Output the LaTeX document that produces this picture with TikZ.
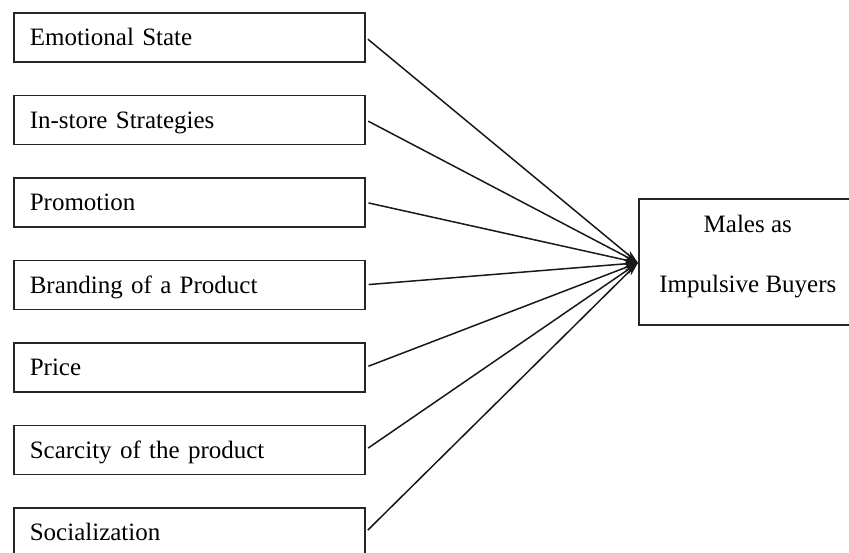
\documentclass[tikz,border=0pt]{standalone}
\usepackage{fontspec}
\setmainfont{Liberation Serif}
\usetikzlibrary{arrows.meta}
\begin{document}
\begin{tikzpicture}[x=1pt,y=-1pt,
  factor/.style={draw=black!85,line width=1.6pt,anchor=north west,
    minimum width=351pt,minimum height=49pt,text width=319pt,inner xsep=16pt,
    align=left,text height=17pt,text depth=0pt,
    font=\fontsize{25}{30}\selectfont},
  outcome/.style={draw=black!85,line width=1.6pt,anchor=north west,
    minimum width=218pt,minimum height=126pt,align=center,
    font=\fontsize{25}{60}\selectfont},
  link/.style={line width=1.5pt,black!90,shorten <=3pt,
    -{Stealth[length=14pt,width=8pt]}}]
\clip (0,0) rectangle (849,552);
\node[factor] (f1) at (13,12) {Emotional State};
\node[factor] (f2) at (13,94.5) {In-store Strategies};
\node[factor] (f3) at (13,177) {Promotion};
\node[factor] (f4) at (13,259.5) {Branding of a Product};
\node[factor] (f5) at (13,342) {Price};
\node[factor] (f6) at (13,424.5) {Scarcity of the product};
\node[factor] (f7) at (13,507) {Socialization};
\node[outcome] (t) at (638,198) {Males as\\Impulsive Buyers\rule[-15pt]{0pt}{15pt}};
\foreach \i in {1,...,7} {\draw[link] (f\i.east) -- ([yshift=-1pt]t.west);}
\end{tikzpicture}
\end{document}
